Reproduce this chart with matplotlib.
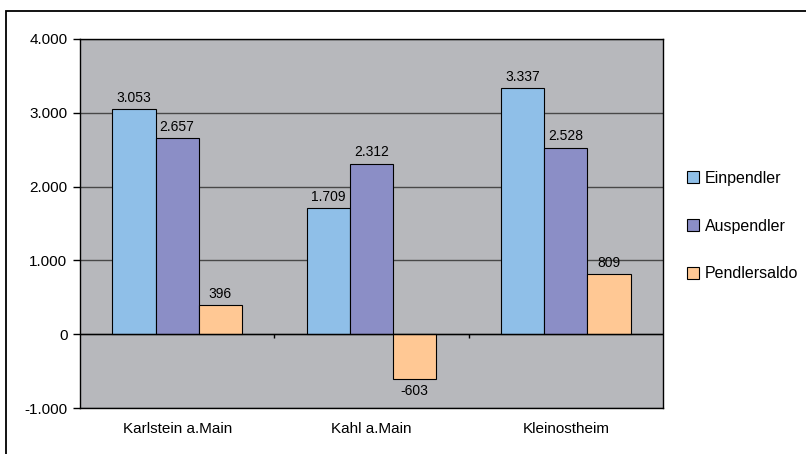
import matplotlib
matplotlib.use("Agg")
import matplotlib.pyplot as plt
from matplotlib.patches import Rectangle
import numpy as np

plt.rcParams['font.family'] = ['Liberation Sans', 'DejaVu Sans']

categories = ["Karlstein a.Main", "Kahl a.Main", "Kleinostheim"]
series_names = ["Einpendler", "Auspendler", "Pendlersaldo"]
einpendler = [3053, 1709, 3337]
auspendler = [2657, 2312, 2528]
pendlersaldo = [396, -603, 809]
colors = ["#8FBFE8", "#8B8EC6", "#FFC894"]
yticks = [-1000, 0, 1000, 2000, 3000, 4000]
ytick_labels = ["-1.000", "0", "1.000", "2.000", "3.000", "4.000"]

def fmt(v):
    return f"{v:,}".replace(",", ".")

fig = plt.figure(figsize=(8.06, 4.54), dpi=100)
# outer frame
fig.patches.append(Rectangle((6/806, -0.1), 1.2, (454-11)/454 + 0.1,
                             transform=fig.transFigure, fill=False,
                             edgecolor="black", linewidth=1.3))

ax = fig.add_axes([80/806, 1-408/454, (663-80)/806, (408-39)/454])
ax.set_facecolor("#B7B8BC")
ax.set_xlim(-0.5, 2.5)
ax.set_ylim(-1000, 4000)

x = np.arange(len(categories))
w = 1/4.5
data = [einpendler, auspendler, pendlersaldo]
for i, (vals, col, name) in enumerate(zip(data, colors, series_names)):
    pos = x + (i-1)*w
    bars = ax.bar(pos, vals, width=w, color=col, edgecolor="black",
                  linewidth=0.8, label=name, zorder=3)
    for p, v in zip(pos, vals):
        if v >= 0:
            ax.annotate(fmt(v), (p, v), xytext=(0, 3), textcoords="offset points",
                        ha="center", va="bottom", fontsize=10, zorder=4)
        else:
            ax.annotate(fmt(v), (p, v), xytext=(0, -4), textcoords="offset points",
                        ha="center", va="top", fontsize=10, zorder=4)

ax.set_yticks(yticks)
ax.set_yticklabels(ytick_labels, fontsize=11)
ax.yaxis.grid(True, color="#484848", linewidth=1.0, zorder=1)
ax.set_axisbelow(True)
ax.axhline(0, color="black", linewidth=1.0, zorder=3.5)
ax.vlines([0.5, 1.5], -45, 0, color="black", linewidth=1.0, zorder=3.5)
ax.tick_params(axis="y", direction="out", length=5, width=1, pad=4)
ax.set_xticks(x)
ax.set_xticklabels(categories, fontsize=11)
ax.tick_params(axis="x", length=0, pad=10)
for s in ax.spines.values():
    s.set_color("black")
    s.set_linewidth(1.0)

leg = ax.legend(loc="center left", bbox_to_anchor=(687/806, 1-226/454),
                bbox_transform=fig.transFigure, frameon=False, fontsize=11.5,
                handlelength=0.75, handleheight=0.75, handletextpad=0.35,
                labelspacing=2.05, borderaxespad=0, borderpad=0)

fig.savefig("out.png", dpi=100)
